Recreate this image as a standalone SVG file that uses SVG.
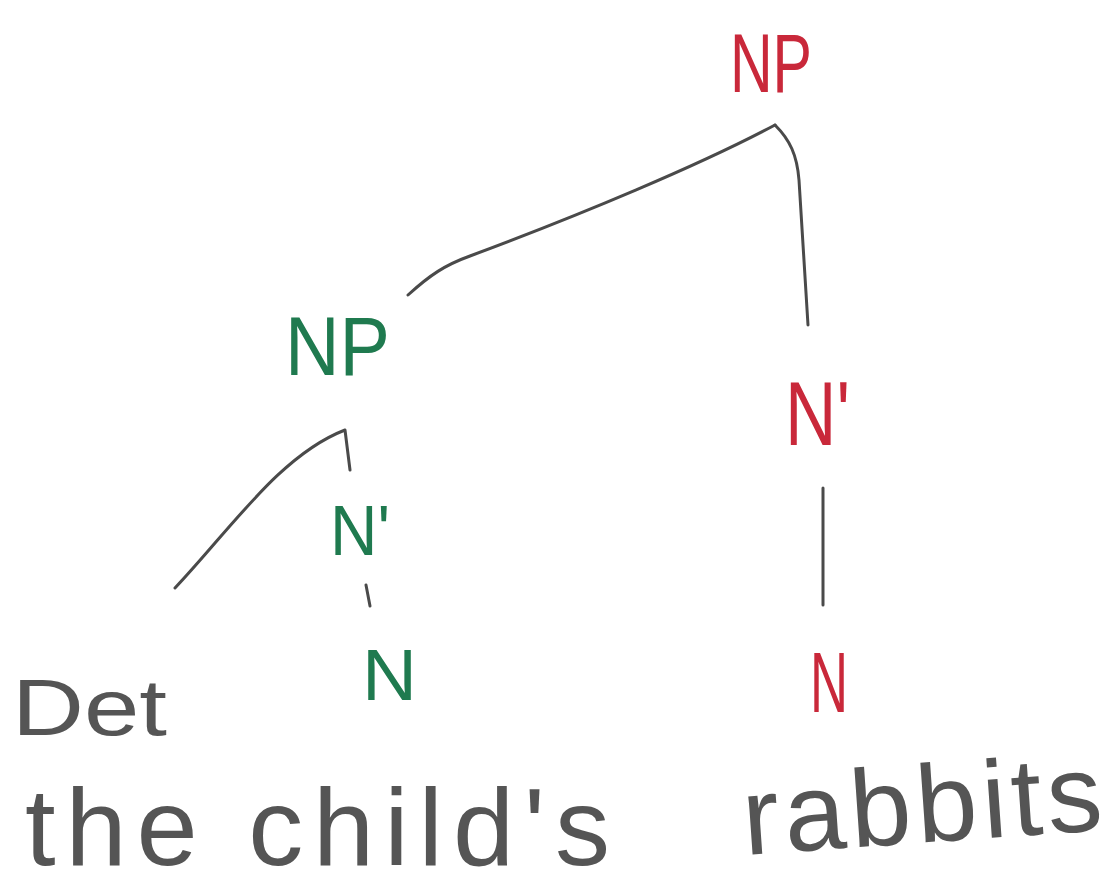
<svg xmlns="http://www.w3.org/2000/svg" width="1109" height="894" viewBox="0 0 1109 894">
<style>
.t{font-family:"Liberation Sans",Arial,sans-serif;}
.red{fill:#c9283a;}
.green{fill:#1f7a4f;}
.gray{fill:#555555;}
.ln{fill:none;stroke:#4a4a4a;stroke-width:3;stroke-linecap:round;stroke-linejoin:round;}
</style>
<rect width="1109" height="894" fill="#ffffff"/>
<g id="connectors">
<path class="ln" d="M408,295 C430,275 445,265 470,256 C580,215 700,165 775,125"/>
<path class="ln" d="M775,125 C790,140 797,155 799,180 L808,325"/>
<path class="ln" d="M175,588 C230,530 280,455 345,430 L350,470"/>
<path class="ln" d="M366,585 L370,606"/>
<path class="ln" d="M823,488 L823,605"/>
</g>
<g id="np-top"><text class="t red" x="730" y="92" font-size="84" textLength="82" lengthAdjust="spacingAndGlyphs">NP</text></g>
<g id="np-left"><text class="t green" x="285" y="375" font-size="84" textLength="105" lengthAdjust="spacingAndGlyphs">NP</text></g>
<g id="nbar-right"><text class="t red" x="785" y="445" font-size="90" textLength="65" lengthAdjust="spacingAndGlyphs">N'</text></g>
<g id="nbar-left"><text class="t green" x="330" y="555" font-size="70" textLength="60" lengthAdjust="spacingAndGlyphs">N'</text></g>
<g id="n-left"><text class="t green" x="362" y="700" font-size="72" textLength="55" lengthAdjust="spacingAndGlyphs">N</text></g>
<g id="n-right"><text class="t red" x="810" y="712" font-size="86" textLength="38" lengthAdjust="spacingAndGlyphs">N</text></g>
<g id="det"><text class="t gray" x="12" y="735" font-size="80" textLength="155" lengthAdjust="spacingAndGlyphs">Det</text></g>
<g id="words">
<text class="t gray" x="25" y="865" font-size="110" textLength="585" lengthAdjust="spacing">the child's</text>
<text class="t gray" x="745" y="855" font-size="110" textLength="360" lengthAdjust="spacing" transform="rotate(-4 745 855)">rabbits</text>
</g>
</svg>
